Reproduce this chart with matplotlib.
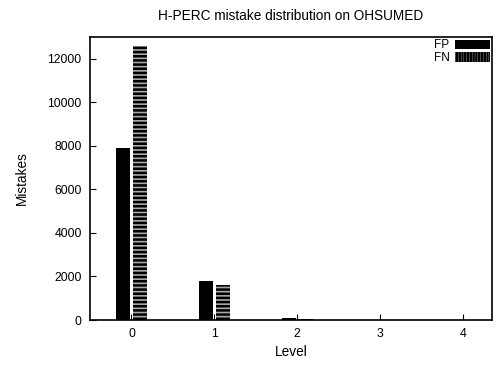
import matplotlib.pyplot as plt
import numpy as np
from matplotlib.patches import Patch

levels = [0, 1, 2, 3, 4]
fp = [7900, 1800, 80, 5, 0]
fn = [12600, 1600, 60, 3, 0]

plt.rcParams.update({
    "font.family": ["Liberation Sans", "DejaVu Sans"],
    "font.size": 9,
    "hatch.linewidth": 1.8,
})

fig = plt.figure(figsize=(5.0, 3.67), dpi=100)
ax = fig.add_axes([0.18, 0.128, 0.804, 0.771])

x = np.array(levels)
w = 0.17
ax.bar(x - 0.1, fp, width=w, color="black", linewidth=0)
ax.bar(x + 0.1, fn, width=w, color="#a8a8a8", hatch="----", edgecolor="black", linewidth=0)

ax.set_xlim(-0.5, 4.35)
ax.set_ylim(0, 13000)
ax.set_xticks(levels)
ax.set_yticks(np.arange(0, 12001, 2000))
ax.tick_params(direction="in", length=4, width=0.8, labelsize=8.8, pad=6)
for s in ax.spines.values():
    s.set_linewidth(1.2)

ax.set_title("H-PERC mistake distribution on OHSUMED", fontsize=9.8, pad=12)
ax.set_xlabel("Level", fontsize=9.8, labelpad=3)
ax.set_ylabel("Mistakes", fontsize=9.8, labelpad=13)

handles = [
    Patch(facecolor="black", edgecolor="black", linewidth=0),
    Patch(facecolor="white", hatch="||||||", edgecolor="black", linewidth=0),
]
ax.legend(handles, ["FP", "FN"], loc="upper right", frameon=False, markerfirst=False,
          handlelength=2.9, handleheight=0.85, labelspacing=0.05, handletextpad=0.5,
          borderaxespad=0.0, borderpad=0.2, fontsize=8.5)

fig.savefig("out.png", dpi=100)
